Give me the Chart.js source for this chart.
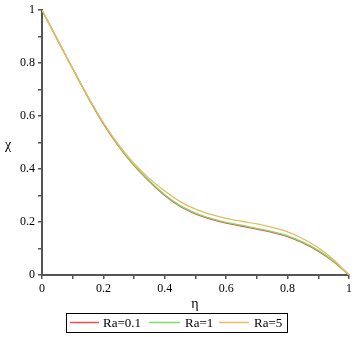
<!DOCTYPE html>
<html>
<head>
<meta charset="utf-8">
<script src="https://cdn.jsdelivr.net/npm/chart.js@4"></script>
<style>
html,body{margin:0;padding:0;background:#fff;}
#wrap{width:364px;height:337px;position:relative;}
</style>
</head>
<body>
<div id="wrap"><canvas id="c" width="364" height="337"></canvas></div>
<script>
const etaValues = [0,0.05,0.1,0.15,0.2,0.25,0.3,0.35,0.4,0.45,0.5,0.55,0.6,0.65,0.7,0.75,0.8,0.85,0.9,0.95,1];
const chiRa01 = [1.0,0.889,0.779,0.671,0.571,0.486,0.413,0.353,0.300,0.259,0.231,0.211,0.196,0.185,0.173,0.161,0.145,0.121,0.090,0.050,0.0];
const chiRa1  = [1.0,0.890,0.780,0.672,0.573,0.488,0.415,0.356,0.303,0.262,0.234,0.214,0.199,0.188,0.176,0.164,0.148,0.124,0.093,0.052,0.0];
const chiRa5  = [1.0,0.890,0.780,0.673,0.575,0.491,0.421,0.364,0.317,0.277,0.249,0.229,0.214,0.203,0.193,0.180,0.163,0.137,0.103,0.058,0.0];
const seriesLabels = ['Ra=0.1','Ra=1','Ra=5'];
const seriesColors = ['#f04a4a','#7ddc6a','#e6bc60'];
const xTickLabels = ['0','0.2','0.4','0.6','0.8','1'];
const yTickLabels = ['0','0.2','0.4','0.6','0.8','1'];

const toPts = ys => etaValues.map((x,i)=>({x:x,y:ys[i]}));
const serif = '"Liberation Serif","DejaVu Serif",serif';

const decor = {
  id:'decor',
  afterDraw(chart){
    const ctx = chart.ctx;
    ctx.save();
    ctx.fillStyle = '#000';
    ctx.font = '14px ' + serif;
    ctx.textAlign='center'; ctx.textBaseline='middle';
    ctx.fillText('χ', 8, 145);
    ctx.fillText('η', 195, 304);
    // legend
    ctx.font = '13px ' + serif;
    const boxL = 66, boxR = 287, boxT = 313, boxB = 332;
    const cy = (boxT+boxB)/2;
    ctx.strokeStyle='#000'; ctx.lineWidth=1;
    ctx.strokeRect(boxL+0.5, boxT+0.5, boxR-boxL, boxB-boxT);
    const lineStarts = [70,149,219], lineEnds = [99,180,249], textStarts = [103,185,254];
    ctx.textAlign='left';
    seriesLabels.forEach((l,i)=>{
      ctx.strokeStyle = seriesColors[i]; ctx.lineWidth=1.5;
      ctx.beginPath(); ctx.moveTo(lineStarts[i], cy); ctx.lineTo(lineEnds[i], cy); ctx.stroke();
      ctx.fillStyle='#000';
      ctx.fillText(l, textStarts[i], cy+1);
    });
    ctx.restore();
  }
};

new Chart(document.getElementById('c'), {
  type:'line',
  data:{
    datasets:[
      {label:seriesLabels[0], data:toPts(chiRa01), borderColor:seriesColors[0], borderWidth:1.3, pointRadius:0, cubicInterpolationMode:'monotone', order:3},
      {label:seriesLabels[1], data:toPts(chiRa1), borderColor:seriesColors[1], borderWidth:1.3, pointRadius:0, cubicInterpolationMode:'monotone', order:2},
      {label:seriesLabels[2], data:toPts(chiRa5), borderColor:seriesColors[2], borderWidth:1.3, pointRadius:0, cubicInterpolationMode:'monotone', order:1}
    ]
  },
  options:{
    responsive:false,
    animation:false,
    devicePixelRatio:1,
    layout:{padding:{top:8,right:15,left:0,bottom:0}},
    plugins:{legend:{display:false}, tooltip:{enabled:false}},
    scales:{
      x:{
        type:'linear', min:0, max:1,
        afterFit(s){ s.height = 62; },
        border:{display:true, color:'#555', width:2},
        grid:{display:true, drawOnChartArea:false, drawTicks:true, tickLength:4, color:'#555', lineWidth:1.5},
        ticks:{stepSize:0.1, color:'#000', font:{family:serif, size:12}, padding:3, maxRotation:0, autoSkip:false,
          callback(v){ const k=Math.round(v*10); return k%2===0 ? xTickLabels[k/2] : ''; }}
      },
      y:{
        type:'linear', min:0, max:1,
        afterFit(s){ s.width = 42; },
        border:{display:true, color:'#555', width:2},
        grid:{display:true, drawOnChartArea:false, drawTicks:true, tickLength:4, color:'#555', lineWidth:1.5},
        ticks:{stepSize:0.1, color:'#000', font:{family:serif, size:12}, padding:3, autoSkip:false,
          callback(v){ const k=Math.round(v*10); return k%2===0 ? yTickLabels[k/2] : ''; }}
      }
    }
  },
  plugins:[decor]
});
</script>
</body>
</html>
